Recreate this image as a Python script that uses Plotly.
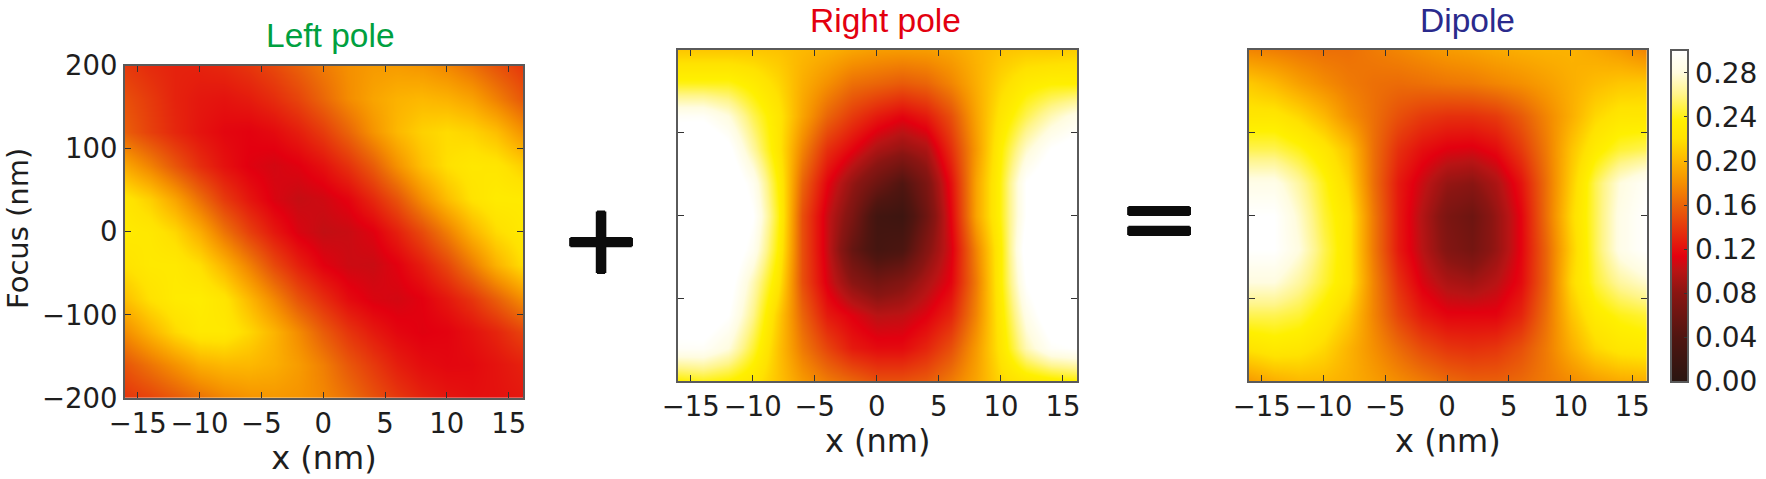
import plotly.graph_objects as go

W, H = 1766, 479

x_nm = [-16, -14, -12, -10, -8, -6, -4, -2, 0, 2, 4, 6, 8, 10, 12, 14, 16]
focus_nm = [200, 160, 120, 80, 40, 0, -40, -80, -120, -160, -200]
x_ticks = [-15, -10, -5, 0, 5, 10, 15]
focus_ticks = [-200, -100, 0, 100, 200]
cbar_ticks = [0.00, 0.04, 0.08, 0.12, 0.16, 0.20, 0.24, 0.28]
panel_titles = ["Left pole", "Right pole", "Dipole"]

left_pole = [
    [.140,.133,.129,.129,.132,.138,.147,.158,.170,.180,.185,.186,.183,.176,.165,.152,.140],
    [.150,.140,.129,.124,.122,.126,.134,.145,.161,.178,.190,.197,.200,.197,.189,.173,.155],
    [.157,.143,.131,.122,.116,.114,.118,.127,.141,.160,.182,.200,.212,.217,.213,.203,.183],
    [.192,.174,.153,.134,.121,.112,.108,.112,.121,.136,.156,.181,.204,.219,.226,.224,.212],
    [.224,.211,.190,.164,.140,.123,.110,.104,.107,.115,.132,.152,.179,.203,.221,.230,.229],
    [.229,.226,.215,.194,.167,.143,.124,.110,.103,.105,.112,.128,.148,.172,.198,.217,.227],
    [.221,.228,.228,.218,.198,.173,.147,.128,.113,.106,.105,.113,.127,.146,.171,.197,.217],
    [.204,.220,.230,.232,.223,.200,.176,.152,.134,.118,.110,.108,.113,.124,.138,.157,.178],
    [.179,.198,.216,.228,.228,.215,.198,.178,.156,.138,.125,.116,.112,.114,.121,.130,.144],
    [.153,.167,.181,.195,.200,.200,.195,.186,.172,.154,.140,.127,.119,.116,.117,.122,.128],
    [.138,.145,.155,.166,.176,.182,.184,.182,.176,.165,.151,.139,.129,.123,.120,.121,.124],
]

right_pole = [
    [.207,.207,.207,.207,.205,.200,.196,.190,.186,.185,.186,.190,.198,.205,.208,.208,.210],
    [.240,.240,.240,.230,.215,.195,.180,.165,.160,.155,.160,.175,.195,.215,.230,.235,.235],
    [.295,.295,.280,.250,.225,.190,.160,.140,.125,.115,.125,.150,.190,.225,.250,.270,.285],
    [.320,.325,.305,.265,.225,.175,.135,.115,.095,.085,.095,.135,.185,.235,.275,.300,.310],
    [.320,.330,.320,.290,.235,.160,.115,.085,.060,.040,.070,.120,.190,.240,.300,.320,.330],
    [.320,.330,.330,.300,.240,.150,.105,.070,.025,.020,.060,.115,.190,.240,.300,.330,.330],
    [.320,.330,.320,.290,.235,.150,.105,.055,.028,.035,.075,.110,.175,.235,.310,.330,.330],
    [.310,.320,.310,.270,.225,.150,.110,.080,.065,.075,.095,.115,.170,.235,.300,.325,.330],
    [.310,.315,.300,.260,.210,.160,.125,.112,.100,.102,.112,.130,.175,.230,.285,.315,.320],
    [.295,.295,.280,.245,.205,.170,.145,.125,.118,.118,.130,.150,.185,.225,.270,.295,.300],
    [.235,.240,.235,.225,.205,.185,.170,.160,.150,.150,.155,.170,.190,.215,.225,.230,.235],
]

dipole = [
    [.175,.172,.168,.165,.165,.170,.175,.180,.185,.188,.192,.195,.197,.197,.192,.185,.175],
    [.208,.200,.188,.178,.170,.165,.163,.165,.168,.170,.175,.180,.187,.195,.202,.207,.208],
    [.225,.225,.215,.200,.180,.165,.150,.140,.135,.135,.140,.155,.175,.195,.215,.225,.225],
    [.250,.250,.240,.225,.205,.165,.135,.120,.112,.110,.118,.140,.170,.205,.230,.245,.250],
    [.285,.285,.265,.240,.215,.165,.125,.105,.085,.080,.095,.122,.165,.210,.250,.280,.295],
    [.300,.300,.275,.245,.225,.170,.125,.098,.070,.060,.085,.115,.165,.215,.250,.285,.300],
    [.300,.300,.280,.250,.225,.170,.125,.100,.075,.065,.085,.115,.160,.210,.250,.285,.300],
    [.280,.280,.265,.245,.225,.175,.135,.110,.095,.090,.100,.118,.160,.215,.245,.265,.275],
    [.250,.250,.245,.230,.210,.175,.145,.125,.115,.115,.115,.130,.165,.205,.230,.240,.245],
    [.222,.228,.225,.215,.198,.180,.163,.148,.138,.135,.138,.150,.170,.195,.215,.225,.228],
    [.185,.195,.200,.200,.195,.187,.178,.170,.162,.157,.157,.162,.170,.178,.187,.193,.195],
]

CMAX = 0.3012
stops = [
    (0.000, "#2a1510"), (0.040, "#501510"), (0.080, "#8a1512"), (0.100, "#b81414"),
    (0.113, "#e3000f"), (0.140, "#e63a0c"), (0.160, "#ea6508"), (0.180, "#f59000"),
    (0.200, "#fdb800"), (0.220, "#ffe200"), (0.236, "#fff000"), (0.260, "#fff58a"),
    (0.280, "#fffce0"), (0.300, "#ffffff"), (CMAX, "#ffffff"),
]
colorscale = [[v / CMAX, c] for v, c in stops]

INK = "#1e1e1e"
FRAME = "#5a5a5a"
TICK_FONT = dict(family="DejaVu Sans", size=27.5, color=INK)
CBAR_FONT = dict(family="DejaVu Sans", size=28, color=INK)
XLABEL_FONT = dict(family="DejaVu Sans", size=32, color=INK)
YLABEL_FONT = dict(family="DejaVu Sans", size=29, color=INK)
TITLE_FONT = "Liberation Sans"


def fx(px):
    return px / W


def fy(py):
    return 1 - py / H


# plot frames in window pixels: left, right, top, bottom
frames = [(125, 523, 65.7, 398), (678, 1077.3, 50, 381.3), (1249, 1646.7, 50, 381.3)]
title_pos = [(330, 36, "#00a040"), (885, 20, "#e3000f"), (1467, 20, "#2a2a8c")]

fig = go.Figure()
for i, z in enumerate([left_pole, right_pole, dipole]):
    fig.add_trace(go.Heatmap(
        x=x_nm, y=focus_nm, z=z, coloraxis="coloraxis", zsmooth="best",
        xaxis=f"x{i + 1}", yaxis=f"y{i + 1}", hoverongaps=False,
    ))

layout = dict(
    width=W, height=H, margin=dict(l=0, r=0, t=0, b=0, autoexpand=False), showlegend=False,
    paper_bgcolor="white", plot_bgcolor="white",
    coloraxis=dict(
        cmin=0, cmax=CMAX, colorscale=colorscale,
        colorbar=dict(
            x=fx(1671.3), xanchor="left", xref="paper",
            y=fy(381.5), yanchor="bottom", yref="paper",
            len=331.5 / H, lenmode="fraction",
            thickness=17.4, thicknessmode="pixels",
            tickvals=cbar_ticks, tickformat=".2f", ticks="inside", ticklen=5,
            tickcolor="#333333", tickfont=CBAR_FONT,
            outlinecolor=FRAME, outlinewidth=2, ypad=0, xpad=0,
        ),
    ),
)
for i, (l, r, t, b) in enumerate(frames):
    n = i + 1
    layout[f"xaxis{n}"] = dict(
        domain=[fx(l), fx(r)], range=[-16.03, 16.16], anchor=f"y{n}",
        tickvals=x_ticks, ticks="inside", ticklen=6, tickwidth=1.2, tickcolor="#333333",
        tickfont=TICK_FONT, showgrid=False, zeroline=False,
        showline=True, linecolor=FRAME, linewidth=2, mirror="allticks",
        title=dict(text="x (nm)", font=XLABEL_FONT, standoff=5),
    )
    layout[f"yaxis{n}"] = dict(
        domain=[fy(b), fy(t)], range=[-200, 200], anchor=f"x{n}",
        tickvals=focus_ticks, ticks="inside", ticklen=6, tickwidth=1.2, tickcolor="#333333",
        tickfont=TICK_FONT, showgrid=False, zeroline=False,
        showline=True, linecolor=FRAME, linewidth=2, mirror="allticks",
        showticklabels=(i == 0),
    )

annotations = [dict(
    text="Focus (nm)", x=fx(18), y=fy(229), xref="paper", yref="paper",
    xanchor="center", yanchor="middle", showarrow=False, textangle=-90, font=YLABEL_FONT,
)]
for text, (px, py, col) in zip(panel_titles, title_pos):
    annotations.append(dict(
        text=text, x=fx(px), y=fy(py), xref="paper", yref="paper",
        xanchor="center", yanchor="middle", showarrow=False,
        font=dict(family=TITLE_FONT, size=33.5, color=col),
    ))
thick = "1.2px 0 0 #0c0c0c, -1.2px 0 0 #0c0c0c, 0 1.2px 0 #0c0c0c, 0 -1.2px 0 #0c0c0c"
for sym, px, py in [("+", 601, 239), ("=", 1159, 218)]:
    annotations.append(dict(
        text=sym, x=fx(px), y=fy(py), xref="paper", yref="paper",
        xanchor="center", yanchor="middle", showarrow=False,
        font=dict(family="DejaVu Sans", size=98, color="#0c0c0c", shadow=thick),
    ))
layout["annotations"] = annotations
fig.update_layout(**layout)
fig.write_html(
    "out.html",
    config={"displayModeBar": False},
    post_script="document.body.style.margin='0';document.documentElement.style.overflow='hidden';",
)
